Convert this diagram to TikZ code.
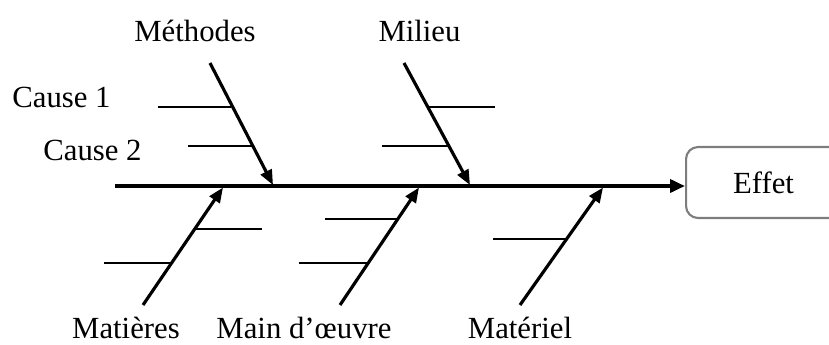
\documentclass[tikz,border=0pt]{standalone}
\usepackage{fontspec}
\setmainfont{Liberation Serif}
\usetikzlibrary{arrows.meta}
\definecolor{boxgray}{RGB}{125, 125, 125}

\begin{document}
\begin{tikzpicture}[
    x=0.02cm, y=-0.02cm,
    font=\fontsize{17.5}{21}\selectfont,
    lbl/.style={anchor=base, inner sep=0pt},
    spine/.style={-{Triangle[length=0.3cm, width=0.26cm]}, line width=2.1pt},
    bone/.style={-{Triangle[length=0.3cm, width=0.24cm]}, line width=1.8pt},
    cause/.style={line width=0.95pt},
    effect/.style={draw=boxgray, line width=1.2pt, rounded corners=0.24cm,
        anchor=west, inner xsep=0.94cm, text width=2.4cm, align=left,
        minimum height=1.42cm}
]
    \useasboundingbox (0,0) rectangle (829,345);

    % Effect and spine
    \node[effect] (effet) at (685,182.5) {Effet};
    \coordinate (tail) at (115,186);
    \draw[spine] (tail) -- (tail -| effet.west);

    % Categories
    \node[lbl] (methodes) at (195,41) {Méthodes};
    \node[lbl] (milieu) at (419.5,41) {Milieu};
    \node[lbl] (matieres) at (126,338) {Matières};
    \node[lbl] (mainoeuvre) at (304,338) {Main d’œuvre};
    \node[lbl] (materiel) at (520,338) {Matériel};

    % Causes
    \node[lbl] (cause1) at (61.5,107) {Cause 1};
    \node[lbl] (cause2) at (92.5,160) {Cause 2};

    % Bones
    \coordinate (meth0) at (210,63);  \coordinate (meth1) at (273,185);
    \coordinate (mil0) at (404,63);   \coordinate (mil1) at (470,185);
    \coordinate (mat0) at (143,305);  \coordinate (mat1) at (223,187.5);
    \coordinate (mo0) at (340,305);   \coordinate (mo1) at (419,187.5);
    \coordinate (mt0) at (520,305);   \coordinate (mt1) at (603,187.5);
    \draw[bone] (meth0) -- (meth1);
    \draw[bone] (mil0) -- (mil1);
    \draw[bone] (mat0) -- (mat1);
    \draw[bone] (mo0) -- (mo1);
    \draw[bone] (mt0) -- (mt1);

    % Cause lines
    \foreach \xa/\xb/\y in {158/231/107, 188/252/146, 428/495/107, 382/449/146,
        196/262/229, 104/172/263, 325/398/219, 299/368/263, 493/566/239}
        \draw[cause] (\xa,\y) -- (\xb,\y);
\end{tikzpicture}
\end{document}
